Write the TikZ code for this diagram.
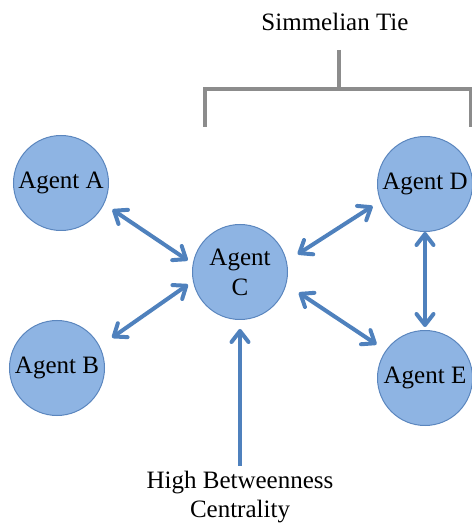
\documentclass[tikz,border=0pt]{standalone}
\usepackage{fontspec}
\setmainfont{Liberation Serif}
\usetikzlibrary{arrows.meta}
\definecolor{agentfill}{HTML}{8EB4E3}
\definecolor{agentline}{HTML}{5B86BE}
\definecolor{linkblue}{HTML}{4F81BD}
\definecolor{tiegray}{HTML}{8C8C8C}
\tikzset{
  barb/.tip={Straight Barb[length=11pt,width=17pt,line cap=round,line join=round]},
  agent/.style={circle, draw=agentline, line width=1pt, fill=agentfill,
    minimum size=95pt, inner sep=0pt, align=center,
    font=\fontsize{25}{30}\selectfont},
  label/.style={align=center, font=\fontsize{25}{29}\selectfont},
  link/.style={draw=linkblue, line width=4pt, barb-barb},
  pointer/.style={draw=linkblue, line width=4pt, -barb},
  tie/.style={draw=tiegray, line width=3.5pt}
}
\begin{document}
\begin{tikzpicture}[x=1pt, y=1pt]
  \useasboundingbox (0,0) rectangle (472,523);
  \clip (0,0) rectangle (472,523);

  % agents
  \node[agent] (A) at (61,340) {Agent A};
  \node[agent] (B) at (57,155) {Agent B};
  \node[agent] (C) at (240,251) {Agent\\C};
  \node[agent] (D) at (425,339) {Agent D};
  \node[agent] (E) at (425,145) {Agent E};

  % reciprocal ties
  \draw[link, shorten <=10pt, shorten >=6pt] (A.-26) -- (C.170);
  \draw[link, shorten <=15pt, shorten >=6pt] (B.27) -- (C.191);
  \draw[link, shorten <=13pt, shorten >=9pt] (C.13) -- (D.201);
  \draw[link, shorten <=15pt, shorten >=11pt] (C.-15) -- (E.145);
  \draw[link, shorten <=0pt, shorten >=3pt] (D.-90) -- (E.90);

  % betweenness label
  \node[label] (hbc) at (240,26) {High Betweenness\\Centrality};
  \draw[pointer, shorten <=2pt, shorten >=9pt] (hbc.north) -- (C.south);

  % Simmelian tie bracket
  \node[label] (tie) at (335,501) {Simmelian Tie};
  \coordinate (stemtop) at (339,473);
  \coordinate (stembot) at (339,434);
  \coordinate (legL) at (205,396);
  \coordinate (legR) at (471,396);
  \draw[tie] (stemtop) -- (stembot);
  \draw[tie] (legL) |- (stembot) -| (legR);
\end{tikzpicture}
\end{document}
